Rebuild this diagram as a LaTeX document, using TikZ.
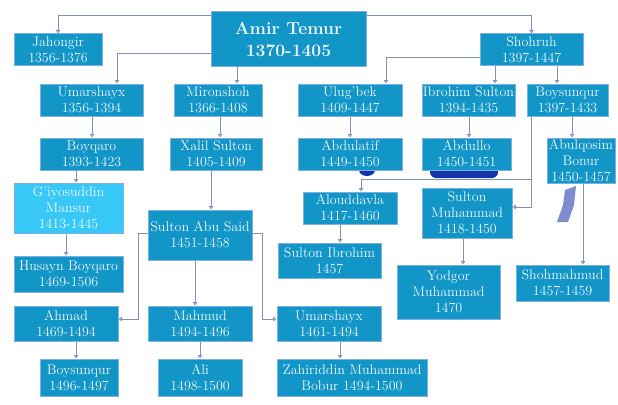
\documentclass[tikz,border=0pt]{standalone}
\usepackage{tikz}
\usetikzlibrary{arrows.meta}

\definecolor{boxblue}{RGB}{18,150,200}
\definecolor{boxedge}{RGB}{125,175,225}
\definecolor{lightbox}{RGB}{55,200,248}
\definecolor{linkc}{RGB}{130,145,185}
\definecolor{inkblue}{RGB}{22,52,170}
\definecolor{namec}{RGB}{238,246,250}

\begin{document}
\begin{tikzpicture}[x=1pt, y=-1pt,
  person/.style={draw=boxedge, line width=1pt, fill=boxblue, text=namec,
    align=center, inner sep=0pt, font=\fontsize{14}{16}\selectfont},
  link/.style={draw=linkc, line width=0.9pt,
    -{Triangle[open, length=3.5pt, width=4.5pt, fill=white]}}]

\useasboundingbox (0,0) rectangle (618,404);

% Ink marks
\fill[inkblue] (367,170) ellipse (8 and 6);
\fill[inkblue, rounded corners=6pt] (430,164) rectangle (498,178);
\fill[inkblue!70, opacity=0.8] (565,190) -- (576,186) -- (574,205) -- (568,222)
  -- (557,222) -- (563,205) -- cycle;

% Persons
\node[person, minimum width=155, minimum height=55, font=\bfseries\fontsize{17.5}{22}\selectfont]
  (amir) at (288.5,39.5) {Amir Temur\\1370-1405};
\node[person, minimum width=88, minimum height=32] (jahongir) at (58,50) {Jahongir\\1356-1376};
\node[person, minimum width=103, minimum height=32] (shohruh) at (531.5,50) {Shohruh\\1397-1447};

\node[person, minimum width=103, minimum height=32] (umar) at (91.5,100) {Umarshayx\\1356-1394};
\node[person, minimum width=88, minimum height=32] (miron) at (218,100) {Mironshoh\\1366-1408};
\node[person, minimum width=104, minimum height=32] (ulugbek) at (350,100) {Ulug'bek\\1409-1447};
\node[person, minimum width=93, minimum height=32] (ibrohim) at (468.5,100) {Ibrohim Sulton\\1394-1435};
\node[person, minimum width=81, minimum height=32] (boysun) at (567.5,100) {Boysunqur\\1397-1433};

\node[person, minimum width=103, minimum height=32] (boyqaro) at (91.5,154) {Boyqaro\\1393-1423};
\node[person, minimum width=92, minimum height=32] (xalil) at (216,154) {Xalil Sulton\\1405-1409};
\node[person, minimum width=104, minimum height=32] (abdulatif) at (350,154) {Abdulatif\\1449-1450};
\node[person, minimum width=89, minimum height=32] (abdullo) at (466.5,154) {Abdullo\\1450-1451};
\node[person, minimum width=68, minimum height=45] (abulqosim) at (581,160.5) {Abulqosim\\Bonur\\1450-1457};

\node[person, fill=lightbox, minimum width=109, minimum height=50] (giyos) at (68.5,208) {G'iyosuddin\\Mansur\\1413-1445};
\node[person, minimum width=104, minimum height=50] (abusaid) at (200,235) {Sulton Abu Said\\1451-1458};
\node[person, minimum width=94, minimum height=32] (alouddavla) at (350,208) {Alouddavla\\1417-1460};
\node[person, minimum width=90, minimum height=50] (sultmuh) at (467,213) {Sulton\\Muhammad\\1418-1450};

\node[person, minimum width=109, minimum height=36] (husayn) at (68.5,274) {Husayn Boyqaro\\1469-1506};
\node[person, minimum width=103, minimum height=35] (sultibr) at (329.5,260.5) {Sulton Ibrohim\\1457};
\node[person, minimum width=103, minimum height=54] (yodgor) at (448.5,292) {Yodgor\\Muhammad\\1470};
\node[person, minimum width=93, minimum height=36] (shohmah) at (562.5,283) {Shohmahmud\\1457-1459};

\node[person, minimum width=104, minimum height=35] (ahmad) at (66,323.5) {Ahmad\\1469-1494};
\node[person, minimum width=104, minimum height=35] (mahmud) at (200,323.5) {Mahmud\\1494-1496};
\node[person, minimum width=104, minimum height=35] (umarb) at (329,323.5) {Umarshayx\\1461-1494};

\node[person, minimum width=78, minimum height=37] (boysunb) at (79,377.5) {Boysunqur\\1496-1497};
\node[person, minimum width=84, minimum height=37] (ali) at (200,377.5) {Ali\\1498-1500};
\node[person, minimum width=150, minimum height=37] (zahir) at (352,377.5) {Zahiriddin Muhammad\\Bobur 1494-1500};

% Links
\draw[link] ([yshift=-4pt]amir.north west) -| (jahongir.north);
\draw[link] ([yshift=14pt]amir.south west) -| (umar.north -| 117,0);
\draw[link] (amir.south -| 237,0) -- (miron.north -| 237,0);
\draw[link] ([yshift=-4pt]amir.north east) -| (shohruh.north);

\draw[link] ([yshift=9pt]shohruh.south west) -| (ulugbek.north -| 386,0);
\draw[link] (shohruh.south -| 495,0) -- (ibrohim.north -| 495,0);
\draw[link] (shohruh.south -| 557,0) -- (boysun.north -| 557,0);

\draw[link] (umar.south -| 92,0) -- (boyqaro.north -| 92,0);
\draw[link] (miron.south -| 220,0) -- (xalil.north -| 220,0);
\draw[link] (ulugbek.south) -- (abdulatif.north);
\draw[link] (ibrohim.south -| 469,0) -- (abdullo.north -| 469,0);
\draw[link] (boysun.south -| 572,0) -- (abulqosim.north -| 572,0);

\draw[link] (boyqaro.south -| 76,0) -- (giyos.north -| 76,0);
\draw[link] (xalil.south -| 211,0) -- (abusaid.north -| 211,0);
\draw[link] (boysun.south -| 531,0) |- (361,179) -- (alouddavla.north -| 361,0);
\draw[link] (boysun.south -| 531,0) |- (sultmuh.east |- 0,207);

\draw[link] (giyos.south -| 66,0) -- (husayn.north -| 66,0);
\draw[link] (alouddavla.south -| 340,0) -- (sultibr.north -| 340,0);
\draw[link] (sultmuh.south -| 463,0) -- (yodgor.north -| 463,0);
\draw[link] (abulqosim.south -| 583,0) -- (shohmah.north -| 583,0);

\draw[link] (abusaid.west |- 0,233) -| (138,319) -- (ahmad.east |- 0,319);
\draw[link] (abusaid.south -| 195,0) -- (mahmud.north -| 195,0);
\draw[link] (abusaid.east |- 0,233) -| (262,319) -- (umarb.west |- 0,319);

\draw[link] (ahmad.south -| 76,0) -- (boysunb.north -| 76,0);
\draw[link] (mahmud.south) -- (ali.north);
\draw[link] (umarb.south -| 340,0) -- (zahir.north -| 340,0);

\end{tikzpicture}
\end{document}
